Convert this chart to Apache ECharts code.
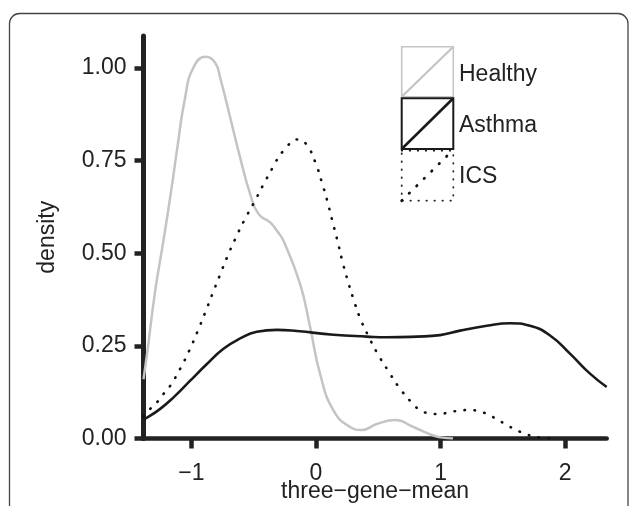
<!DOCTYPE html>
<html>
<head>
<meta charset="utf-8">
<script src="https://cdn.jsdelivr.net/npm/echarts@6/dist/echarts.min.js"></script>
<style>
html,body{margin:0;padding:0;background:#fff;}
#chart{width:629px;height:506px;}
</style>
</head>
<body>
<div id="chart"></div>
<script>
// ---- data ----
var xTicks = [-1, 0, 1, 2];
var xTickLabels = ['\u22121', '0', '1', '2'];
var yTicks = [0, 0.25, 0.5, 0.75, 1];
var yTickLabels = ['0.00', '0.25', '0.50', '0.75', '1.00'];
var seriesNames = ['Healthy', 'Asthma', 'ICS'];

var healthy = [
  [-1.385,0.16],[-1.353,0.237],[-1.291,0.399],[-1.225,0.534],[-1.163,0.668],[-1.117,0.776],
  [-1.051,0.920],[-0.984,1.001],[-0.884,1.030],[-0.81,1.014],[-0.770,0.974],[-0.689,0.866],
  [-0.609,0.758],[-0.529,0.660],[-0.462,0.606],[-0.368,0.583],[-0.315,0.561],[-0.262,0.534],
  [-0.128,0.417],[-0.047,0.300],[0.033,0.174],[0.140,0.076],[0.274,0.031],[0.368,0.023],
  [0.488,0.039],[0.635,0.050],[0.782,0.031],[0.942,0.008],[1.0,0.003],[1.1,0.0]
];
var asthma = [
  [-1.385,0.052],[-1.358,0.056],[-1.251,0.080],[-1.144,0.111],[-1.010,0.156],[-0.876,0.201],
  [-0.743,0.242],[-0.609,0.270],[-0.475,0.288],[-0.315,0.293],[-0.154,0.290],[0.140,0.280],
  [0.408,0.275],[0.568,0.273],[0.809,0.275],[0.996,0.279],[1.157,0.291],[1.371,0.304],
  [1.558,0.311],[1.718,0.304],[1.879,0.278],[2.039,0.229],[2.200,0.175],[2.334,0.139]
];
var ics = [
  [-1.385,0.060],[-1.331,0.080],[-1.273,0.099],[-1.225,0.120],[-1.171,0.142],[-1.091,0.188],
  [-1.018,0.237],[-0.952,0.288],[-0.892,0.338],[-0.834,0.388],[-0.775,0.438],[-0.714,0.489],
  [-0.649,0.538],[-0.577,0.588],[-0.502,0.634],[-0.427,0.682],[-0.347,0.731],[-0.262,0.776],
  [-0.138,0.807],[-0.074,0.792],[-0.002,0.742],[0.047,0.691],[0.092,0.639],[0.132,0.586],
  [0.172,0.534],[0.209,0.482],[0.252,0.429],[0.300,0.377],[0.354,0.325],[0.421,0.276],
  [0.496,0.228],[0.581,0.182],[0.669,0.137],[0.774,0.095],[0.835,0.077],[0.910,0.068],
  [0.990,0.066],[1.071,0.071],[1.151,0.075],[1.231,0.077],[1.311,0.073],[1.387,0.064],
  [1.459,0.050],[1.531,0.037],[1.600,0.024],[1.673,0.014],[1.750,0.005],[1.825,0.002],[1.9,0.0]
];

var FONT = '"Liberation Sans", Arial, Helvetica, sans-serif';
var chart = echarts.init(document.getElementById('chart'), null, {renderer: 'canvas'});

var option = {
  animation: false,
  backgroundColor: '#fff',
  grid: {left: 143.5, right: 22.3, top: 36, bottom: 67.5, containLabel: false, outerBoundsMode: 'none'},
  xAxis: {
    type: 'value', min: -1.385, max: 2.334,
    name: 'three\u2212gene\u2212mean', nameLocation: 'middle', nameGap: 42, nameMoveOverlap: false,
    nameTextStyle: {fontFamily: FONT, fontSize: 23, color: '#222'},
    axisLine: {show: true, onZero: false, lineStyle: {color: '#222', width: 4.5}},
    axisTick: {show: true, customValues: xTicks, length: 10, lineStyle: {color: '#222', width: 4.5}},
    axisLabel: {customValues: xTicks, margin: 24, fontFamily: FONT, fontSize: 23, color: '#222',
      formatter: function (v) { var i = xTicks.indexOf(v); return i >= 0 ? xTickLabels[i] : ''; }},
    splitLine: {show: false}
  },
  yAxis: {
    type: 'value', min: 0, max: 1.086,
    name: 'density', nameLocation: 'middle', nameGap: 84, nameMoveOverlap: false,
    nameTextStyle: {fontFamily: FONT, fontSize: 23, color: '#222'},
    axisLine: {show: true, onZero: false, lineStyle: {color: '#222', width: 5}},
    axisTick: {show: true, customValues: yTicks, length: 9, lineStyle: {color: '#222', width: 4.5}},
    axisLabel: {customValues: yTicks, margin: 17, fontFamily: FONT, fontSize: 23, color: '#222',
      formatter: function (v) { var i = yTicks.indexOf(v); return i >= 0 ? yTickLabels[i] : ''; }},
    splitLine: {show: false}
  },
  series: [
    {name: seriesNames[0], type: 'line', data: healthy, smooth: 0.5, showSymbol: false, clip: true,
      lineStyle: {color: '#c4c4c4', width: 2.5}, z: 2},
    {name: seriesNames[2], type: 'line', data: ics, smooth: 0.5, showSymbol: false, clip: true,
      lineStyle: {color: '#111', width: 2.6, type: [0.5, 9.5], cap: 'round'}, z: 3},
    {name: seriesNames[1], type: 'line', data: asthma, smooth: 0.5, showSymbol: false, clip: true,
      lineStyle: {color: '#1a1a1a', width: 2.6}, z: 4}
  ],
  graphic: [
    {type: 'rect', shape: {x: 9.5, y: 13.5, width: 618.5, height: 540, r: 10}, silent: true, z: -1,
      style: {fill: null, stroke: '#444', lineWidth: 1.3}},
    {type: 'rect', shape: {x: 401.7, y: 46.7, width: 51.6, height: 50}, silent: true,
      style: {fill: '#fff', stroke: '#c6c6c6', lineWidth: 1.6}},
    {type: 'line', shape: {x1: 401.7, y1: 96.7, x2: 453.3, y2: 46.7}, silent: true,
      style: {stroke: '#c4c4c4', lineWidth: 2.2}},
    {type: 'rect', shape: {x: 401.7, y: 98.3, width: 51.6, height: 50.7}, silent: true,
      style: {fill: '#fff', stroke: '#1a1a1a', lineWidth: 2}},
    {type: 'line', shape: {x1: 401.7, y1: 149, x2: 453.3, y2: 98.3}, silent: true,
      style: {stroke: '#1a1a1a', lineWidth: 2.6}},
    {type: 'rect', shape: {x: 401.7, y: 150.7, width: 51.6, height: 50}, silent: true,
      style: {fill: '#fff', stroke: '#222', lineWidth: 1.8, lineDash: [0.5, 7.5], lineCap: 'round'}},
    {type: 'line', shape: {x1: 401.7, y1: 200.7, x2: 448, y2: 155}, silent: true,
      style: {stroke: '#111', lineWidth: 2.8, lineDash: [0.5, 10], lineCap: 'round'}},
    {type: 'text', x: 459, y: 75, silent: true,
      style: {text: seriesNames[0], font: '23px ' + FONT, fill: '#222', verticalAlign: 'middle'}},
    {type: 'text', x: 459, y: 125.5, silent: true,
      style: {text: seriesNames[1], font: '23px ' + FONT, fill: '#222', verticalAlign: 'middle'}},
    {type: 'text', x: 459, y: 176.5, silent: true,
      style: {text: seriesNames[2], font: '23px ' + FONT, fill: '#222', verticalAlign: 'middle'}}
  ]
};
chart.setOption(option);
</script>
</body>
</html>
